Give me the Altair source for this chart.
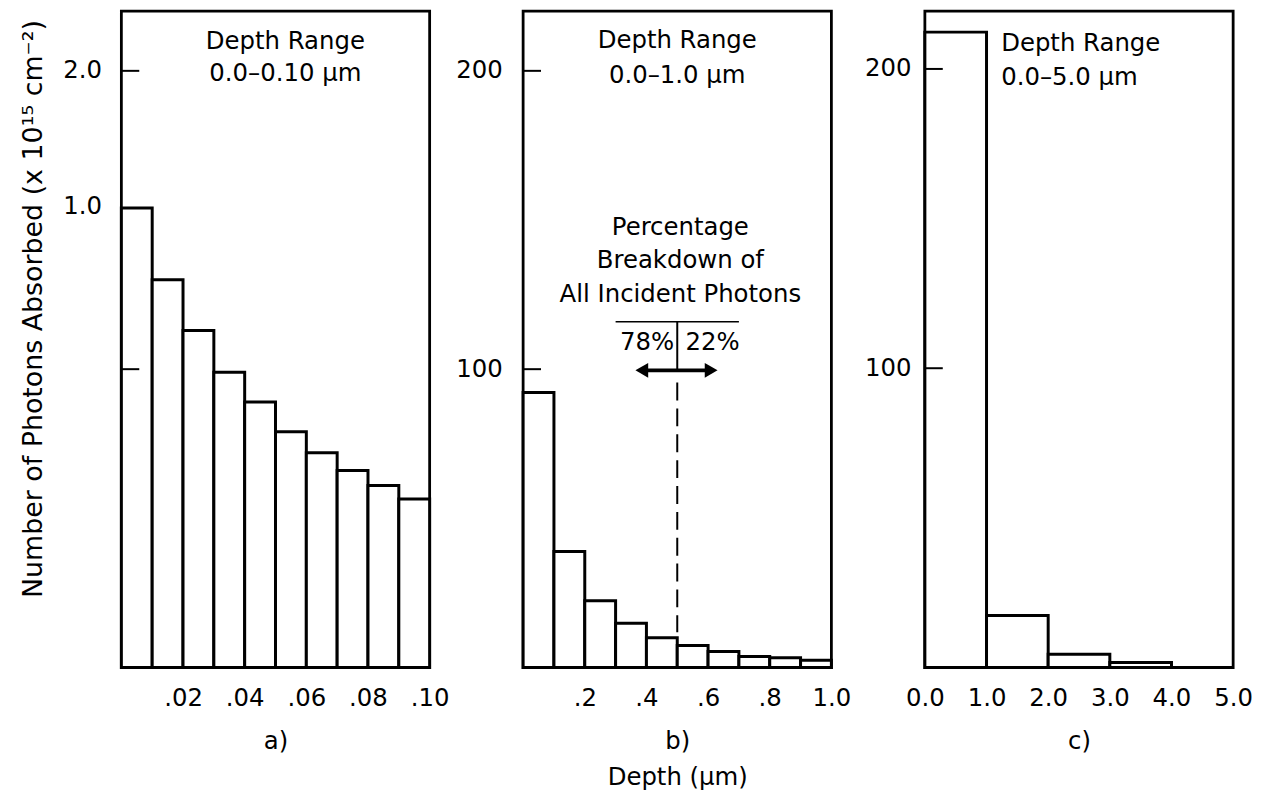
import altair as alt
import pandas as pd

FONT = "DejaVu Sans"
FS = 24.5

# ---------------- data ----------------
# panel a: depth range 0.0-0.10 um
a_start = [0.00, 0.01, 0.02, 0.03, 0.04, 0.05, 0.06, 0.07, 0.08, 0.09]
a_end = [0.01, 0.02, 0.03, 0.04, 0.05, 0.06, 0.07, 0.08, 0.09, 0.10]
a_photons = [1.54, 1.30, 1.13, 0.99, 0.89, 0.79, 0.72, 0.66, 0.61, 0.565]
a_xticks = [0.02, 0.04, 0.06, 0.08, 0.10]
a_ytick_marks = [2.0, 1.0]
a_ylabel_pos = [2.0, 1.544]
a_ylabel_text = ["2.0", "1.0"]

# panel b: depth range 0.0-1.0 um
b_start = [0.0, 0.1, 0.2, 0.3, 0.4, 0.5, 0.6, 0.7, 0.8, 0.9]
b_end = [0.1, 0.2, 0.3, 0.4, 0.5, 0.6, 0.7, 0.8, 0.9, 1.0]
b_photons = [92.2, 38.9, 22.4, 14.8, 10.0, 7.4, 5.4, 3.7, 3.3, 2.4]
b_xticks = [0.2, 0.4, 0.6, 0.8, 1.0]
b_yticks = [200, 100]

# panel c: depth range 0.0-5.0 um
c_start = [0.0, 1.0, 2.0, 3.0]
c_end = [1.0, 2.0, 3.0, 4.0]
c_photons = [212.3, 17.4, 4.4, 1.7]
c_xticks = [0.0, 1.0, 2.0, 3.0, 4.0, 5.0]
c_yticks = [200, 100]

# annotation (panel b)
split_depth = 0.5
pct_left = "78%"
pct_right = "22%"

W = 310
H = 660


def js_list(vals):
    return "[" + ",".join(repr(v) if not isinstance(v, str) else "'" + v + "'" for v in vals) + "]"


def bars_layer(start, end, vals, xdom, ydom, xaxis, yaxis):
    df = pd.DataFrame({"start": start, "end": end, "photons": vals})
    return alt.Chart(df).mark_rect(fill="white", stroke="black", strokeWidth=3).encode(
        x=alt.X("start:Q", scale=alt.Scale(domain=xdom, nice=False, zero=False), axis=xaxis),
        x2="end:Q",
        y=alt.Y("photons:Q", scale=alt.Scale(domain=ydom, nice=False), axis=yaxis),
        y2=alt.datum(0),
    )


def tick_layer(vals):
    df = pd.DataFrame({"t": vals})
    return alt.Chart(df).mark_rule(stroke="black", strokeWidth=2).encode(
        y="t:Q", x=alt.value(0), x2=alt.value(18)
    )


def text_layer(xs, ys, labels, align="center"):
    df = pd.DataFrame({"x": xs, "y": ys, "label": labels})
    return alt.Chart(df).mark_text(
        font=FONT, fontSize=FS, align=align, baseline="middle", color="black"
    ).encode(x="x:Q", y="y:Q", text="label:N")


def xaxis(values, expr, title, lh=None):
    kw = dict(
        values=values, labelExpr=expr, ticks=False, tickSize=0, domain=False, grid=False,
        labelFont=FONT, labelFontSize=FS, labelColor="black", labelPadding=19,
        labelFlush=False, labelOverlap=False,
        title=title, titleFont=FONT, titleFontSize=FS, titleFontWeight="normal",
        titleColor="black", titlePadding=20,
    )
    if lh:
        kw["titleLineHeight"] = lh
    return alt.Axis(**kw)


def yaxis(values, expr, pad, **extra):
    return alt.Axis(
        values=values, labelExpr=expr, ticks=False, tickSize=0, domain=False, grid=False,
        labelFont=FONT, labelFontSize=FS, labelColor="black", labelPadding=pad,
        labelBaseline="middle", labelFlush=False, labelOverlap=False, **extra,
    )


# ---------------- panel a ----------------
a_y_expr = js_list(a_ylabel_text) + "[indexof(" + js_list(a_ylabel_pos) + ", datum.value)]"
pa = alt.layer(
    bars_layer(
        a_start, a_end, a_photons, [0, 0.10], [0, 2.2],
        xaxis(a_xticks, "substring(format(datum.value, '.2f'), 1)", "a)"),
        yaxis(
            a_ylabel_pos, a_y_expr, 20,
            title="Number of Photons Absorbed (x 10¹⁵ cm⁻²)",
            titleFont=FONT, titleFontSize=27, titleFontWeight="normal", titleColor="black",
            titleX=-88, titleY=299, titleBaseline="middle",
        ),
    ),
    tick_layer(a_ytick_marks),
    text_layer([0.0532, 0.0532], [2.097, 1.989], ["Depth Range", "0.0–0.10 μm"]),
).properties(width=W, height=H)

# ---------------- panel b ----------------
b_x_expr = "datum.value < 1 ? substring(format(datum.value, '.1f'), 1) : format(datum.value, '.1f')"
ann_h = pd.DataFrame({"x": [0.30], "x2": [0.70], "y": [115.9]})
ann_v = pd.DataFrame({"x": [split_depth], "y": [115.9], "y2": [100.0]})
ann_dash = pd.DataFrame({"x": [split_depth], "y": [95.5], "y2": [11.8]})
ann_arrow = pd.DataFrame({"x": [0.39], "x2": [0.605], "y": [99.6]})
ann_heads = pd.DataFrame({"x": [0.385, 0.61], "y": [99.6, 99.6], "s": ["triangle-left", "triangle-right"]})

pb = alt.layer(
    bars_layer(
        b_start, b_end, b_photons, [0, 1.0], [0, 220],
        xaxis(b_xticks, b_x_expr, ["b)", "Depth (μm)"], lh=36),
        yaxis(b_yticks, "format(datum.value, 'd')", 21, title=None),
    ),
    tick_layer(b_yticks),
    text_layer([0.5, 0.5], [210.0, 198.3], ["Depth Range", "0.0–1.0 μm"]),
    text_layer([0.51, 0.51, 0.51], [147.2, 136.3, 125.0],
               ["Percentage", "Breakdown of", "All Incident Photons"]),
    text_layer([0.49], [108.9], [pct_left], align="right"),
    text_layer([0.527], [108.9], [pct_right], align="left"),
    alt.Chart(ann_h).mark_rule(stroke="black", strokeWidth=1.5).encode(x="x:Q", x2="x2:Q", y="y:Q"),
    alt.Chart(ann_v).mark_rule(stroke="black", strokeWidth=2).encode(x="x:Q", y="y:Q", y2="y2:Q"),
    alt.Chart(ann_dash).mark_rule(stroke="black", strokeWidth=2, strokeDash=[18, 8]).encode(
        x="x:Q", y="y:Q", y2="y2:Q"),
    alt.Chart(ann_arrow).mark_rule(stroke="black", strokeWidth=4).encode(x="x:Q", x2="x2:Q", y="y:Q"),
    alt.Chart(ann_heads).mark_point(filled=True, color="black", size=220, opacity=1).encode(
        x="x:Q", y="y:Q", shape=alt.Shape("s:N", scale=None)),
).properties(width=W, height=H)

# ---------------- panel c ----------------
pc = alt.layer(
    bars_layer(
        c_start, c_end, c_photons, [0, 5.0], [0, 219.3],
        xaxis(c_xticks, "format(datum.value, '.1f')", "c)"),
        yaxis(c_yticks, "format(datum.value, 'd')", 14, title=None),
    ),
    tick_layer(c_yticks),
    text_layer([1.237, 1.237], [208.2, 197.1], ["Depth Range", "0.0–5.0 μm"], align="left"),
).properties(width=W, height=H)

chart = alt.hconcat(pa, pb, pc, spacing=94, bounds="flush").resolve_scale(
    x="independent", y="independent"
).configure_view(
    stroke="black", strokeWidth=2.8
).properties(
    padding={"left": 10, "top": -1, "right": 5, "bottom": 0},
    background="white",
)

chart.save("out.html", embed_options={"renderer": "svg", "actions": False})
